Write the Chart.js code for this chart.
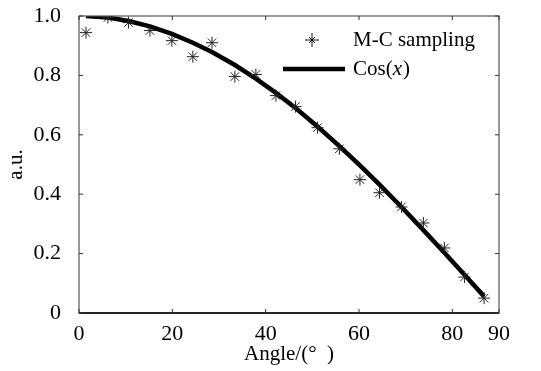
<!DOCTYPE html>
<html>
<head>
<meta charset="utf-8">
<script src="https://cdn.jsdelivr.net/npm/chart.js@4.4.1/dist/chart.umd.min.js"></script>
<style>
  html, body { margin: 0; padding: 0; background: #fff; }
  #wrap { width: 541px; height: 371px; }
</style>
</head>
<body>
<div id="wrap"><canvas id="grafico"></canvas></div>
<script>
// ---- datos ----
const angulos = [1.5, 6.2, 10.6, 15.2, 19.9, 24.4, 28.5, 33.4, 37.9, 42.2, 46.4, 51.1, 55.8, 60.2, 64.4, 69.1, 73.8, 78.3, 82.6, 86.8];
const muestreoMC = [0.944, 0.995, 0.978, 0.951, 0.917, 0.863, 0.91, 0.796, 0.803, 0.732, 0.695, 0.624, 0.553, 0.449, 0.405, 0.357, 0.303, 0.219, 0.121, 0.05];
const curvaCos = [1.0, 0.995, 0.983, 0.965, 0.94, 0.91, 0.879, 0.835, 0.789, 0.741, 0.69, 0.628, 0.562, 0.497, 0.432, 0.357, 0.279, 0.203, 0.129, 0.056];
const ticksX = [0, 20, 40, 60, 80, 90];
const ticksY = [0, 0.2, 0.4, 0.6, 0.8, 1.0];
const etiquetas = { x: "Angle/(°  )", y: "a.u.", mc: "M-C sampling", cos: "Cos(", cosVar: "x", cosFin: ")" };

const fuente = "'Liberation Serif', 'Times New Roman', serif";

// marco + ticks hacia adentro + leyenda
const marcoPlugin = {
  id: "marco",
  afterDatasetsDraw(chart) {
    const { ctx, chartArea: a, scales } = chart;
    ctx.save();
    ctx.lineWidth = 1.2;
    ctx.strokeStyle = "#555";
    ctx.strokeRect(a.left, a.top, a.right - a.left, a.bottom - a.top);
    ctx.strokeStyle = "#000";
    ctx.lineWidth = 1.6;
    ctx.beginPath();
    ctx.moveTo(a.left, a.bottom);
    ctx.lineTo(a.right, a.bottom);
    ctx.stroke();
    ctx.lineWidth = 1;
    ctx.strokeStyle = "#333";
    ticksX.forEach((v) => {
      const px = scales.x.getPixelForValue(v);
      ctx.beginPath();
      ctx.moveTo(px, a.bottom); ctx.lineTo(px, a.bottom - 4);
      ctx.moveTo(px, a.top); ctx.lineTo(px, a.top + 4);
      ctx.stroke();
    });
    ticksY.forEach((v) => {
      const py = scales.y.getPixelForValue(v);
      ctx.beginPath();
      ctx.moveTo(a.left, py); ctx.lineTo(a.left + 4, py);
      ctx.moveTo(a.right, py); ctx.lineTo(a.right - 4, py);
      ctx.stroke();
    });

    // leyenda
    const lx = a.right - 234, ly1 = a.top + 24, ly2 = a.top + 53;
    ctx.strokeStyle = "#111";
    ctx.lineWidth = 1;
    const r = 7;
    const mx = lx + 47;
    ctx.beginPath();
    ctx.moveTo(mx - r, ly1); ctx.lineTo(mx + r, ly1);
    ctx.moveTo(mx, ly1 - r); ctx.lineTo(mx, ly1 + r);
    ctx.moveTo(mx - 3, ly1 - 3); ctx.lineTo(mx + 3, ly1 + 3);
    ctx.moveTo(mx - 3, ly1 + 3); ctx.lineTo(mx + 3, ly1 - 3);
    ctx.stroke();
    ctx.strokeStyle = "#000";
    ctx.lineWidth = 4.5;
    ctx.beginPath();
    ctx.moveTo(lx + 18, ly2); ctx.lineTo(lx + 80, ly2);
    ctx.stroke();

    ctx.fillStyle = "#000";
    ctx.textBaseline = "middle";
    ctx.textAlign = "left";
    ctx.font = "21px " + fuente;
    ctx.fillText(etiquetas.mc, lx + 88, ly1);
    ctx.fillText(etiquetas.cos, lx + 88, ly2);
    let w = ctx.measureText(etiquetas.cos).width;
    ctx.font = "italic 21px " + fuente;
    ctx.fillText(etiquetas.cosVar, lx + 88 + w, ly2);
    w += ctx.measureText(etiquetas.cosVar).width + 1;
    ctx.font = "21px " + fuente;
    ctx.fillText(etiquetas.cosFin, lx + 88 + w, ly2);
    ctx.restore();
  },
};

new Chart(document.getElementById("grafico"), {
  type: "scatter",
  data: {
    datasets: [
      {
        label: "Cos(x)",
        data: angulos.map((a, i) => ({ x: a, y: curvaCos[i] })),
        showLine: true,
        borderColor: "#000",
        borderWidth: 4.5,
        pointRadius: 0,
        tension: 0,
        order: 2,
      },
      {
        label: "M-C sampling",
        data: angulos.map((a, i) => ({ x: a, y: muestreoMC[i] })),
        pointStyle: "star",
        pointRadius: 6,
        borderColor: "#222",
        backgroundColor: "#222",
        borderWidth: 1,
        order: 1,
      },
    ],
  },
  options: {
    responsive: true,
    maintainAspectRatio: false,
    animation: false,
    layout: { padding: { top: 16, right: 42, left: 0, bottom: 0 } },
    plugins: { legend: { display: false }, tooltip: { enabled: false } },
    scales: {
      x: {
        type: "linear",
        min: 0,
        max: 90,
        afterBuildTicks: (s) => { s.ticks = ticksX.map((v) => ({ value: v })); },
        afterFit: (s) => { s.height = 58; s.paddingLeft = 0; s.paddingRight = 0; },
        grid: { display: false },
        border: { display: false },
        ticks: { color: "#000", font: { family: fuente, size: 22 }, padding: 0, maxRotation: 0 },
        title: { display: true, text: etiquetas.x, color: "#000", font: { family: fuente, size: 21 }, padding: { top: 0 } },
      },
      y: {
        min: 0,
        max: 1.0,
        afterBuildTicks: (s) => { s.ticks = ticksY.map((v) => ({ value: v })); },
        afterFit: (s) => { s.width = 79; s.paddingTop = 0; s.paddingBottom = 0; },
        grid: { display: false },
        border: { display: false },
        ticks: {
          color: "#000",
          font: { family: fuente, size: 22 },
          padding: 10,
          callback: (v) => (v === 0 ? "0" : v.toFixed(1)),
        },
        title: { display: true, text: etiquetas.y, color: "#000", font: { family: fuente, size: 21 }, padding: { bottom: 6 } },
      },
    },
  },
  plugins: [marcoPlugin],
});
</script>
</body>
</html>
